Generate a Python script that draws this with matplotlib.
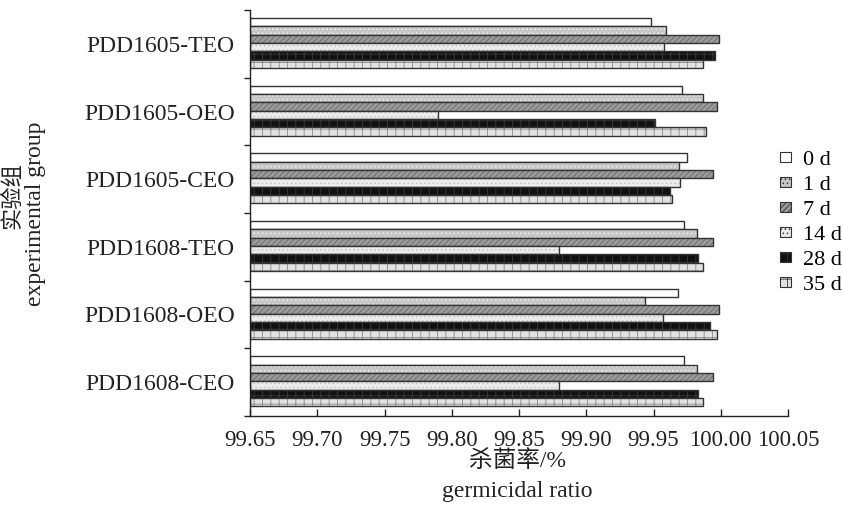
import numpy as np
import matplotlib
matplotlib.use('Agg')
import matplotlib.pyplot as plt
from matplotlib.patches import Patch
from matplotlib.ticker import FixedLocator

plt.rcParams['font.family'] = ['Liberation Serif', 'Noto Sans CJK SC']
plt.rcParams['hatch.linewidth'] = 0.6

# groups, top to bottom
groups = ['PDD1605-TEO', 'PDD1605-OEO', 'PDD1605-CEO',
          'PDD1608-TEO', 'PDD1608-OEO', 'PDD1608-CEO']
days = ['0 d', '1 d', '7 d', '14 d', '28 d', '35 d']

# germicidal ratio (%) per day, one value per group (top to bottom)
d0 = [99.948, 99.971, 99.975, 99.973, 99.968, 99.973]
d1 = [99.959, 99.987, 99.969, 99.982, 99.944, 99.982]
d7 = [99.999, 99.997, 99.994, 99.994, 99.999, 99.994]
d14 = [99.958, 99.790, 99.970, 99.880, 99.957, 99.880]
d28 = [99.996, 99.951, 99.962, 99.983, 99.992, 99.983]
d35 = [99.987, 99.989, 99.964, 99.987, 99.997, 99.987]
series = [d0, d1, d7, d14, d28, d35]

# (face, hatch, hatch colour) per series
styles = [
    ('#ffffff', '', '#ffffff'),
    ('#c6c6c6', '....', '#f0f0f0'),
    ('#9a9a9a', '//////', '#6a6a6a'),
    ('#ececec', '....', '#c4c4c4'),
    ('#111111', '++', '#3c3c3c'),
    ('#e2e2e2', '++', '#8a8a8a'),
]

x_min, x_max = 99.65, 100.05
edge = '#333333'
fs = 17

fig = plt.figure(figsize=(8.43, 5.31), dpi=100)
ax = fig.add_axes([250 / 843, 1 - 416 / 531, 538 / 843, 406 / 531])

bar_h = 0.123
start = 0.118
idx = np.arange(len(groups))
for k, vals in enumerate(series):
    face, hatch, hcol = styles[k]
    y = idx + start + bar_h * (k + 0.5)
    widths = np.array(vals) - x_min
    ax.barh(y, widths, left=x_min, height=bar_h, color=face,
            hatch=hatch, edgecolor=hcol, linewidth=0)
    ax.barh(y, widths, left=x_min, height=bar_h, fill=False,
            edgecolor=edge, linewidth=1.0)

ax.set_xlim(x_min, x_max)
ax.set_ylim(len(groups), 0)
ticks = np.arange(99.65, 100.051, 0.05)
ax.set_xticks(ticks)
ax.set_xticklabels(['%.2f' % v for v in ticks])
ax.set_yticks(idx + 0.5)
ax.set_yticklabels(groups)
ax.yaxis.set_minor_locator(FixedLocator(np.arange(len(groups) + 1)))

ax.tick_params(axis='x', direction='in', length=5, width=1, labelsize=16.5,
               pad=10, colors='#222222')
ax.tick_params(axis='y', which='major', length=0, labelsize=fs, pad=11,
               colors='#222222')
ax.tick_params(axis='y', which='minor', direction='out', length=4, width=1,
               color='#222222')
for s in ['top', 'right']:
    ax.spines[s].set_visible(False)
for s in ['left', 'bottom']:
    ax.spines[s].set_color('#222222')
    ax.spines[s].set_linewidth(1)

handles = [Patch(facecolor=f, hatch=h, edgecolor=edge, linewidth=0.8)
           for f, h, _ in styles]
fig.legend(handles, days, loc='upper left',
           bbox_to_anchor=(762 / 843, 1 - 133 / 531), frameon=False,
           fontsize=16, handlelength=0.5, handleheight=0.3,
           handletextpad=0.55, labelspacing=0.27, borderpad=0.3)

fig.text(517 / 843, 1 - 461 / 531, '杀菌率/%', ha='center', va='center',
         fontsize=fs, color='#222222')
fig.text(517 / 843, 1 - 492 / 531, 'germicidal ratio', ha='center',
         va='center', fontsize=fs, color='#222222')
fig.text(13 / 843, 1 - 196 / 531, '实验组', ha='center', va='center',
         rotation=90, fontsize=16, color='#222222')
fig.text(36 / 843, 1 - 214 / 531, 'experimental group', ha='center',
         va='center', rotation=90, fontsize=fs, color='#222222')

fig.savefig('out.png', dpi=100)
